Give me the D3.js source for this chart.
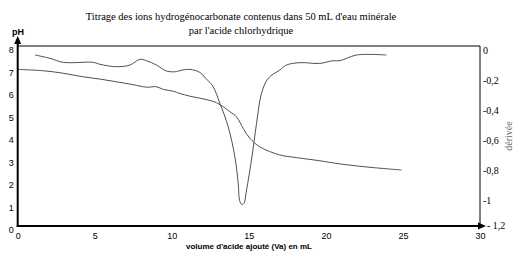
<!DOCTYPE html>
<html><head><meta charset="utf-8">
<script src="https://cdn.jsdelivr.net/npm/d3@7"></script>
<style>body{margin:0;background:#fff}svg{display:block}</style>
</head><body>
<script>
const titleLines = ["Titrage des ions hydrogénocarbonate contenus dans 50 mL d'eau minérale", "par l'acide chlorhydrique"];
const xTicks = [0,5,10,15,20,25,30];
const phTicks = [0,1,2,3,4,5,6,7,8];
const derivTicks = [0,-0.2,-0.4,-0.6,-0.8,-1,-1.2];
const derivTickLabels = ["0","-0,2","-0,4","-0,6","-0,8","-1","- 1,2"];

const phVolume = [0,1.65,2.95,4.25,5.33,6.4,7.5,8.36,9.0,9.45,10.1,10.52,11.17,11.82,12.9,13.77,14.2,14.63,15.06,15.71,17.0,18.09,19.6,20.9,23,24.9];
const phValues = [6.96,6.9,6.79,6.63,6.53,6.41,6.28,6.17,6.19,6.07,5.99,5.89,5.77,5.68,5.48,5.08,4.85,4.34,3.9,3.52,3.16,3.04,2.9,2.76,2.6,2.49];

const derivVolume = [1.12,2.09,2.96,4.9,5.34,6.4,7.28,7.93,8.36,9.0,9.66,10.3,10.52,11.17,11.82,12.2,12.68,13.12,13.66,14.09,14.31,14.4,14.53,14.68,14.85,15.17,15.5,15.82,16.25,17.01,17.44,18.31,19.6,20.47,20.9,21.99,23.93];
const derivValues = [-0.06,-0.082,-0.109,-0.109,-0.122,-0.138,-0.127,-0.089,-0.098,-0.127,-0.167,-0.171,-0.164,-0.156,-0.176,-0.215,-0.271,-0.382,-0.538,-0.738,-0.916,-1.03,-1.056,-1.049,-0.96,-0.76,-0.516,-0.316,-0.216,-0.16,-0.127,-0.111,-0.116,-0.098,-0.098,-0.06,-0.06];

const W = 523, H = 255;
const svg = d3.select("body").append("svg").attr("width", W).attr("height", H);
const x = d3.scaleLinear().domain([0,30]).range([17.7,480]);
const yL = d3.scaleLinear().domain([0,8]).range([226,46]);
const yR = d3.scaleLinear().domain([-1.2,0]).range([226,46]);

// title
svg.append("g").selectAll("text").data(titleLines).join("text")
  .attr("x", 241).attr("y", (d,i) => 20 + i*14)
  .attr("text-anchor","middle")
  .attr("font-family","'Liberation Serif', serif").attr("font-size", 10.5)
  .attr("fill","#000").text(d => d);

// frame top/right
svg.append("line").attr("x1", x(0)).attr("x2", x(30)).attr("y1", yL(8)).attr("y2", yL(8)).attr("stroke","#000").attr("stroke-width",1);
svg.append("line").attr("x1", x(30)).attr("x2", x(30)).attr("y1", yL(8)).attr("y2", yL(0)).attr("stroke","#000").attr("stroke-width",1);

// curves
const linePh = d3.line().x((d,i)=>x(phVolume[i])).y(d=>yL(d)).curve(d3.curveCatmullRom.alpha(0.5));
const lineD = d3.line().x((d,i)=>x(derivVolume[i])).y(d=>yR(d)).curve(d3.curveCatmullRom.alpha(0.5));
svg.append("path").datum(phValues).attr("d", linePh).attr("fill","none").attr("stroke","#50504a").attr("stroke-width",1);
svg.append("path").datum(derivValues).attr("d", lineD).attr("fill","none").attr("stroke","#50504a").attr("stroke-width",1);

// left axis
const gL = svg.append("g").attr("transform",`translate(${x(0)},0)`)
  .call(d3.axisLeft(yL).tickValues(phTicks).tickSize(0).tickPadding(4).tickFormat(d3.format("d")));
gL.select(".domain").remove();
gL.selectAll("text").attr("font-family","'Liberation Sans', Arial, sans-serif").attr("font-size",9).attr("dy","0.75em").attr("fill","#000");
svg.append("line").attr("x1", x(0)).attr("x2", x(0)).attr("y1", yL(0)+1).attr("y2", 42).attr("stroke","#000").attr("stroke-width",2);
svg.append("path").attr("d", `M${x(0)-3.5},${44} L${x(0)},${36} L${x(0)+3.5},${44} Z`).attr("fill","#000");
svg.append("text").attr("x", 12).attr("y", 35).attr("font-family","'Liberation Sans', Arial, sans-serif").attr("font-weight","bold").attr("font-size",9).text("pH");

// bottom axis
const gB = svg.append("g").attr("transform",`translate(0,${yL(0)})`)
  .call(d3.axisBottom(x).tickValues(xTicks).tickSize(0).tickPadding(7));
gB.select(".domain").remove();
gB.selectAll("text").attr("font-family","'Liberation Sans', Arial, sans-serif").attr("font-size",9).attr("fill","#000");
svg.append("line").attr("x1", x(0)-1).attr("x2", x(30)).attr("y1", yL(0)).attr("y2", yL(0)).attr("stroke","#000").attr("stroke-width",2);
svg.append("path").attr("d", `M${x(30)-2},${yL(0)-3.5} L${x(30)+6},${yL(0)} L${x(30)-2},${yL(0)+3.5} Z`).attr("fill","#000");
svg.append("text").attr("x", 249).attr("y", 249).attr("text-anchor","middle")
  .attr("font-family","'Liberation Sans', Arial, sans-serif").attr("font-weight","bold").attr("font-size",8).text("volume d'acide ajouté (Va) en mL");

// right axis
const gR = svg.append("g").attr("transform",`translate(${x(30)},0)`)
  .call(d3.axisRight(yR).tickValues(derivTicks).tickSize(0).tickPadding(3).tickFormat((d,i)=>derivTickLabels[i]));
gR.select(".domain").remove();
gR.selectAll("text").attr("font-family","'Liberation Serif', serif").attr("font-size",10).attr("dy","0.7em").attr("fill","#000");
gR.selectAll("text").filter((d,i)=>i===derivTicks.length-1).attr("x", 7).attr("dy","0.25em");

svg.append("text").attr("transform","translate(512,136) rotate(-90)").attr("text-anchor","middle")
  .attr("font-family","'Liberation Serif', serif").attr("font-size",10).attr("fill","#666").text("dérivée");
</script>
</body></html>
